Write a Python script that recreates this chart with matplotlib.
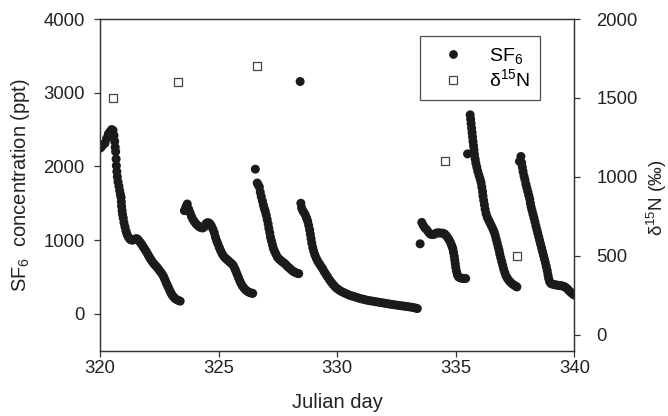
import matplotlib
matplotlib.use("Agg")
import matplotlib.pyplot as plt
from matplotlib.lines import Line2D

plt.rcParams['font.family'] = ['Liberation Sans', 'DejaVu Sans']
plt.rcParams['mathtext.fontset'] = 'custom'
plt.rcParams['mathtext.rm'] = 'Liberation Sans'
plt.rcParams['mathtext.it'] = 'Liberation Sans:italic'

# ---- SF6 concentration (ppt), by Julian day, one list pair per release ----
seg1_day = [320.00, 320.05, 320.10, 320.15, 320.21, 320.28, 320.35, 320.42, 320.49, 320.55,
            320.59, 320.62, 320.64, 320.66, 320.68, 320.69, 320.71, 320.73, 320.76, 320.80,
            320.83, 320.86, 320.89, 320.90, 320.91, 320.93, 320.95, 320.98, 321.01, 321.05,
            321.09, 321.13, 321.18, 321.24, 321.30, 321.36, 321.42, 321.48, 321.55, 321.61,
            321.67, 321.73, 321.79, 321.85, 321.91, 321.97, 322.03, 322.08, 322.14, 322.20,
            322.27, 322.34, 322.41, 322.48, 322.55, 322.62, 322.68, 322.73, 322.78, 322.83,
            322.88, 322.93, 322.98, 323.03, 323.09, 323.15, 323.22, 323.30, 323.38]
seg1_ppt = [2248, 2260, 2290, 2300, 2316, 2380, 2440, 2470, 2500, 2490,
            2420, 2340, 2260, 2200, 2100, 2010, 1930, 1860, 1790, 1730,
            1670, 1620, 1580, 1520, 1460, 1400, 1350, 1300, 1240, 1185,
            1130, 1090, 1050, 1020, 1005, 1000, 1005, 1015, 1020, 1005,
            980, 955, 925, 895, 865, 835, 800, 770, 740, 710,
            680, 655, 630, 600, 570, 540, 505, 470, 430, 395,
            360, 325, 290, 260, 235, 210, 195, 182, 172]

seg2_day = [323.56, 323.62, 323.68, 323.74, 323.80, 323.86, 323.92, 323.98, 324.05, 324.12,
            324.19, 324.26, 324.33, 324.40, 324.46, 324.52, 324.58, 324.64, 324.70, 324.76,
            324.82, 324.87, 324.92, 324.97, 325.03, 325.09, 325.15, 325.22, 325.29, 325.36,
            325.43, 325.50, 325.57, 325.63, 325.69, 325.74, 325.79, 325.84, 325.89, 325.94,
            326.00, 326.07, 326.14, 326.22, 326.30, 326.38, 326.44]
seg2_ppt = [1400, 1450, 1490, 1420, 1370, 1320, 1280, 1250, 1220, 1200,
            1180, 1170, 1165, 1180, 1220, 1235, 1235, 1220, 1190, 1150,
            1100, 1040, 990, 950, 900, 855, 815, 780, 755, 735,
            715, 695, 675, 650, 610, 570, 530, 490, 450, 415,
            380, 350, 325, 305, 290, 282, 278]

seg3_day = [326.55, 326.63, 326.67, 326.72, 326.76, 326.80, 326.85, 326.89, 326.93, 326.97,
            327.01, 327.05, 327.09, 327.12, 327.16, 327.19, 327.23, 327.27, 327.31, 327.36,
            327.42, 327.48, 327.55, 327.62, 327.69, 327.76, 327.83, 327.90, 327.97, 328.04,
            328.11, 328.18, 328.25, 328.32, 328.38, 328.44]
seg3_ppt = [1963, 1775, 1750, 1720, 1650, 1590, 1530, 1475, 1430, 1390,
            1340, 1280, 1220, 1160, 1100, 1040, 990, 940, 890, 850,
            810, 770, 745, 725, 705, 690, 670, 645, 625, 605,
            585, 570, 560, 550, 545, 3152]

seg4_day = [328.47, 328.50, 328.55, 328.61, 328.66, 328.71, 328.76, 328.80, 328.84, 328.87,
            328.90, 328.93, 328.97, 329.01, 329.06, 329.12, 329.18, 329.25, 329.32, 329.39,
            329.46, 329.53, 329.60, 329.68, 329.76, 329.84, 329.92, 330.01, 330.10, 330.20,
            330.30, 330.40, 330.50, 330.60, 330.70, 330.80, 330.90, 331.00, 331.10, 331.20,
            331.31, 331.42, 331.53, 331.64, 331.75, 331.86, 331.97, 332.08, 332.19, 332.30,
            332.41, 332.52, 332.63, 332.74, 332.85, 332.96, 333.07, 333.18, 333.29, 333.38]
seg4_ppt = [1500, 1440, 1400, 1370, 1340, 1300, 1255, 1200, 1140, 1080,
            1020, 960, 900, 850, 800, 755, 715, 680, 645, 610,
            570, 535, 500, 460, 425, 395, 365, 340, 320, 300,
            285, 270, 255, 245, 235, 225, 215, 205, 198, 190,
            182, 176, 170, 164, 158, 152, 146, 140, 134, 128,
            123, 118, 113, 108, 103, 98, 93, 87, 80, 72]

seg5_day = [333.50, 333.57, 333.63, 333.70, 333.78, 333.86, 333.94, 334.02, 334.10, 334.18,
            334.27, 334.36, 334.45, 334.53, 334.60, 334.67, 334.73, 334.79, 334.84, 334.88,
            334.91, 334.94, 334.96, 334.98, 335.00, 335.03, 335.07, 335.12, 335.19, 335.27,
            335.35, 335.42]
seg5_ppt = [950, 1240, 1200, 1165, 1140, 1105, 1080, 1075, 1080, 1095,
            1100, 1095, 1095, 1085, 1060, 1030, 1000, 960, 920, 880,
            830, 780, 730, 680, 630, 580, 530, 500, 488, 482,
            480, 480]

seg6_day = [335.50, 335.61, 335.63, 335.65, 335.67, 335.69, 335.71, 335.73, 335.75, 335.77,
            335.79, 335.82, 335.85, 335.89, 335.93, 335.98, 336.03, 336.07, 336.10, 336.13,
            336.15, 336.18, 336.21, 336.24, 336.28, 336.33, 336.39, 336.45, 336.51, 336.57,
            336.62, 336.67, 336.71, 336.75, 336.79, 336.83, 336.86, 336.90, 336.94, 336.98,
            337.02, 337.07, 337.12, 337.18, 337.25, 337.32, 337.39, 337.46, 337.53, 337.58]
seg6_ppt = [2170, 2700, 2640, 2580, 2520, 2460, 2400, 2340, 2280, 2220,
            2160, 2100, 2045, 1990, 1935, 1880, 1830, 1780, 1720, 1660,
            1600, 1540, 1480, 1420, 1360, 1310, 1270, 1230, 1190, 1150,
            1110, 1060, 1010, 960, 910, 860, 810, 760, 710, 660,
            610, 560, 515, 480, 450, 425, 405, 390, 375, 365]

seg7_day = [337.69, 337.75, 337.78, 337.81, 337.84, 337.88, 337.92, 337.96, 338.00, 338.04,
            338.08, 338.12, 338.15, 338.18, 338.22, 338.26, 338.30, 338.34, 338.38, 338.42,
            338.46, 338.50, 338.54, 338.58, 338.62, 338.66, 338.70, 338.74, 338.78, 338.82,
            338.86, 338.89, 338.92, 338.96, 339.02, 339.10, 339.18, 339.26, 339.34, 339.42,
            339.50, 339.58, 339.65, 339.72, 339.79, 339.86, 339.93, 340.00]
seg7_ppt = [2067, 2135, 2050, 1990, 1930, 1870, 1820, 1760, 1710, 1660,
            1610, 1560, 1500, 1450, 1400, 1350, 1300, 1250, 1195, 1145,
            1095, 1045, 995, 945, 895, 845, 795, 745, 695, 640,
            585, 530, 480, 435, 410, 400, 395, 390, 386, 383,
            378, 370, 355, 335, 310, 290, 270, 255]

# ---- delta 15N (permil) ----
d15n_day = [320.55, 323.30, 326.60, 334.56, 337.57]
d15n_val = [1500, 1600, 1700, 1100, 500]

x_ticks = [320, 325, 330, 335, 340]
left_ticks = [0, 1000, 2000, 3000, 4000]
right_ticks = [0, 500, 1000, 1500, 2000]

sf6_day = seg1_day + seg2_day + seg3_day + seg4_day + seg5_day + seg6_day + seg7_day
sf6_ppt = seg1_ppt + seg2_ppt + seg3_ppt + seg4_ppt + seg5_ppt + seg6_ppt + seg7_ppt

fig = plt.figure(figsize=(6.68, 4.16), dpi=100)
ax = fig.add_axes([0.1497, 0.157, 0.71, 0.7973])
ax2 = ax.twinx()

dark = '#1c1a1a'
spine_c = '#333333'
txt_c = '#222222'

ax.scatter(sf6_day, sf6_ppt, s=42, c=dark, edgecolors='none', zorder=3)
ax2.scatter(d15n_day, d15n_val, s=30, marker='s', facecolors='white',
            edgecolors='#444444', linewidths=0.9, zorder=3)

ax.set_xlim(320, 340)
ax.set_ylim(-500, 4000)
ax2.set_ylim(-100, 2000)
ax.set_xticks(x_ticks)
ax.set_yticks(left_ticks)
ax2.set_yticks(right_ticks)

for a in (ax, ax2):
    for sp in a.spines.values():
        sp.set_color(spine_c)
        sp.set_linewidth(0.9)

ax.tick_params(axis='x', direction='out', length=4, width=0.9, color=spine_c,
               labelsize=13.3, pad=3, labelcolor=txt_c)
ax.tick_params(axis='y', direction='out', length=4, width=0.9, color=spine_c,
               labelsize=13.3, pad=7, labelcolor=txt_c)
ax2.tick_params(axis='y', direction='out', length=4, width=0.9, color=spine_c,
                labelsize=13.3, pad=12, labelcolor=txt_c)

ax.set_xlabel('Julian day', fontsize=14.5, color=txt_c, labelpad=11)
ax.set_ylabel('SF$_6$  concentration (ppt)', fontsize=14.5, color=txt_c, labelpad=8)
ax2.set_ylabel('\u03b4$^{15}$N (\u2030)', fontsize=13.5, color=txt_c)
ax2.yaxis.set_label_coords(1.149, 0.46)

h1 = Line2D([], [], linestyle='none', marker='o', markersize=6.3,
            markerfacecolor=dark, markeredgecolor='none')
h2 = Line2D([], [], linestyle='none', marker='s', markersize=5.2,
            markerfacecolor='white', markeredgecolor='#444444', markeredgewidth=0.9)
leg = ax2.legend([h1, h2], ['SF$_6$', '\u03b4$^{15}$N'],
                 loc='upper left', bbox_to_anchor=(0.675, 0.949),
                 fontsize=14, frameon=True, fancybox=False,
                 borderpad=0.5, handlelength=2.4, handletextpad=0.65,
                 labelspacing=0.15, borderaxespad=0.0)
leg.get_frame().set_edgecolor('#222222')
leg.get_frame().set_linewidth(0.9)

fig.savefig('out.png', dpi=100)
